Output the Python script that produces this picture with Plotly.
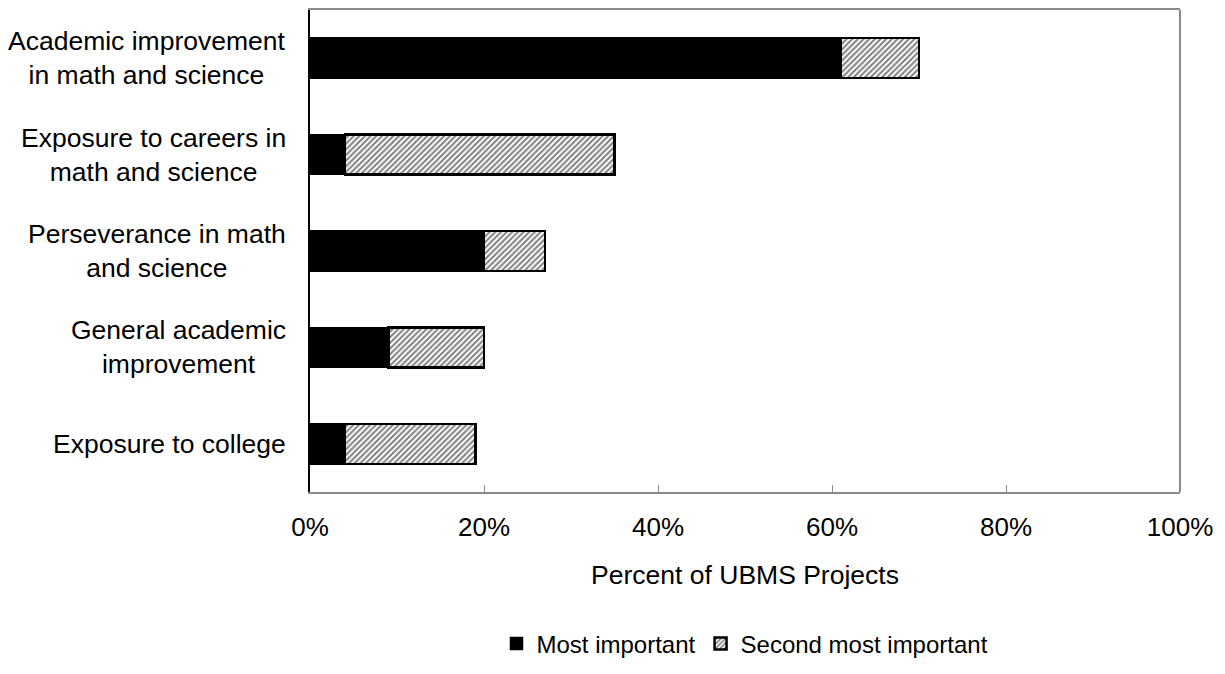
import plotly.graph_objects as go

# Goals of UBMS projects, listed top to bottom
categories = [
    "Academic improvement<br>in math and science",
    "Exposure to careers in<br>math and science",
    "Perseverance in math<br>and science",
    "General academic<br>improvement",
    "Exposure to college",
]
most_important = [61, 4, 20, 9, 4]
second_most_important = [9, 31, 7, 11, 15]
x_ticks = [0, 20, 40, 60, 80, 100]
x_tick_labels = ["0%", "20%", "40%", "60%", "80%", "100%"]

FONT = "Liberation Sans, Arial, sans-serif"

fig = go.Figure()
fig.add_trace(go.Bar(
    y=categories, x=most_important, orientation="h",
    name="Most important",
    marker=dict(color="black", line=dict(color="black", width=1.5)),
))
fig.add_trace(go.Bar(
    y=categories, x=second_most_important, orientation="h",
    name="Second most important",
    marker=dict(
        color="white",
        line=dict(color="black", width=2.5),
        pattern=dict(shape="/", size=4, solidity=0.5,
                     fgcolor="black", bgcolor="white", fillmode="overlay"),
    ),
))

# Category labels: centred lines, block right-aligned next to the axis
for cat in categories:
    fig.add_annotation(
        x=0, xref="paper", y=cat, yref="y",
        text=cat, showarrow=False, xanchor="right", yanchor="middle",
        align="center", xshift=-22,
        font=dict(family=FONT, size=26.5, color="black"),
    )

# Right-hand frame edge
fig.add_shape(type="line", xref="paper", yref="paper", x0=1, x1=1, y0=0, y1=1,
              line=dict(color="#8a8a8a", width=2))

fig.update_layout(
    width=1225, height=674,
    margin=dict(l=310, r=45, t=8, b=170),
    barmode="stack", bargap=0.585,
    plot_bgcolor="white", paper_bgcolor="white",
    font=dict(family=FONT, size=26, color="black"),
    showlegend=True,
    legend=dict(
        orientation="h", x=0.5, xanchor="center", y=-0.315, yanchor="middle",
        font=dict(family=FONT, size=24, color="black"),
        itemwidth=30, traceorder="normal",
    ),
    xaxis=dict(
        range=[0, 100], tickvals=x_ticks, ticktext=x_tick_labels,
        tickfont=dict(family=FONT, size=26),
        ticks="inside", ticklen=7, tickcolor="#8a8a8a", tickwidth=1,
        showgrid=False, zeroline=False,
        showline=True, linecolor="#8a8a8a", linewidth=2, mirror=True,
        ticklabelstandoff=11,
        title=dict(text="Percent of UBMS Projects", standoff=24,
                   font=dict(family=FONT, size=26.5)),
    ),
    yaxis=dict(
        autorange="reversed", showticklabels=False, ticks="",
        showgrid=False, zeroline=False,
        showline=True, linecolor="black", linewidth=2,
    ),
)

fig.write_html("out.html")
